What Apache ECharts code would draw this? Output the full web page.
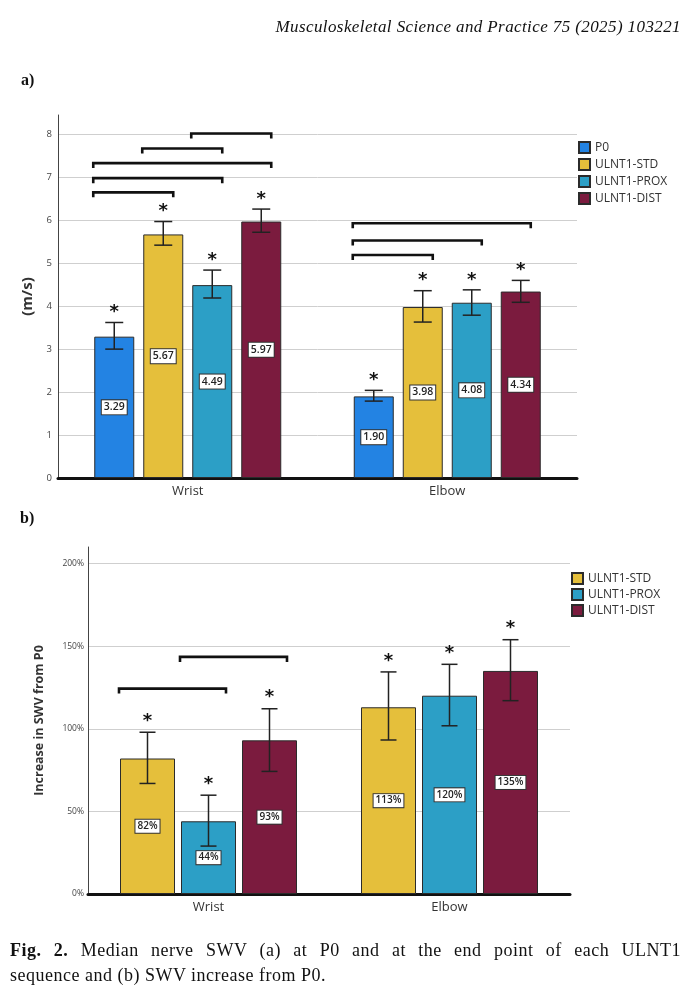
<!DOCTYPE html>
<html>
<head>
<meta charset="utf-8">
<script src="https://cdn.jsdelivr.net/npm/echarts@6/dist/echarts.min.js"></script>
<style>
  html, body { margin: 0; padding: 0; background: #fff; }
  #page { position: relative; width: 692px; height: 994px; overflow: hidden; }
  #chart { position: absolute; left: 0; top: 0; width: 692px; height: 994px; }
  .txt { position: absolute; font-family: "Liberation Serif", serif; color: #111; }
  #journal { right: 11px; top: 17px; font-size: 17px; font-style: italic; letter-spacing: 0.4px; }
  #la { left: 21px; top: 71px; font-size: 16px; font-weight: bold; }
  #lb { left: 20px; top: 509px; font-size: 16px; font-weight: bold; }
  #cap { left: 10px; top: 938px; width: 671px; font-size: 18px; line-height: 25px; letter-spacing: 0.5px; }
  #cap .l1 { text-align: justify; text-align-last: justify; }
</style>
</head>
<body>
<div id="page">
  <div id="chart"></div>
  <div class="txt" id="journal">Musculoskeletal Science and Practice 75 (2025) 103221</div>
  <div class="txt" id="la">a)</div>
  <div class="txt" id="lb">b)</div>
  <div class="txt" id="cap">
    <div class="l1"><b>Fig. 2.</b> Median nerve SWV (a) at P0 and at the end point of each ULNT1</div>
    <div>sequence and (b) SWV increase from P0.</div>
  </div>
</div>
<script>
// categories
const categories = ['Wrist', 'Elbow'];

// (a) SWV, m/s
const namesA = ['P0', 'ULNT1-STD', 'ULNT1-PROX', 'ULNT1-DIST'];
const swvP0 = [3.29, 1.90];
const swvStd = [5.67, 3.98];
const swvProx = [4.49, 4.08];
const swvDist = [5.97, 4.34];
const errLowA = [[3.00, 1.79], [5.42, 3.63], [4.19, 3.79], [5.72, 4.09]];
const errHighA = [[3.62, 2.04], [5.97, 4.36], [4.84, 4.38], [6.26, 4.60]];
// brackets: [category, from series, to series, height]
const bracketsA = [
  [0, 0, 1, 6.65], [0, 0, 2, 6.98], [0, 0, 3, 7.33], [0, 1, 2, 7.67], [0, 2, 3, 8.02],
  [1, 0, 1, 5.19], [1, 0, 2, 5.53], [1, 0, 3, 5.93]
];

// (b) increase from P0, %
const namesB = ['ULNT1-STD', 'ULNT1-PROX', 'ULNT1-DIST'];
const incStd = [82, 113];
const incProx = [44, 120];
const incDist = [93, 135];
const errLowB = [[66.9, 93.2], [29.0, 101.8], [74.2, 117.0]];
const errHighB = [[97.9, 134.4], [59.8, 139.0], [112.1, 153.9]];
const bracketsB = [[0, 0, 1, 124.3], [0, 1, 2, 143.5]];

const colors = {
  'P0': '#2383e3',
  'ULNT1-STD': '#e5bf3b',
  'ULNT1-PROX': '#2c9fc6',
  'ULNT1-DIST': '#7b1b3e'
};

const valuesA = [swvP0, swvStd, swvProx, swvDist];
const valuesB = [incStd, incProx, incDist];

const FONT = 'Open Sans';
const barWA = 40, gapA = 9;
const barWB = 55, gapB = 6;

function slotOffset(i, n, bw, gap) {
  return (i - (n - 1) / 2) * (bw + gap);
}

function barSeries(name, data, axis, bw, gap, fmt, fs) {
  return {
    type: 'bar',
    name: name,
    xAxisIndex: axis,
    yAxisIndex: axis,
    data: data,
    barWidth: bw,
    barGap: (gap / bw * 100) + '%',
    itemStyle: { color: colors[name], borderColor: '#2b2b2b', borderWidth: 1 },
    label: {
      show: true,
      position: 'inside',
      formatter: fmt,
      fontFamily: FONT,
      fontSize: fs,
      fontWeight: 600,
      color: '#222',
      backgroundColor: '#fff',
      borderColor: '#333',
      borderWidth: 1,
      padding: [2, 2, 1, 2]
    },
    z: 2
  };
}

function errorSeries(idx, n, lows, highs, axis, bw, gap, cap, starOff) {
  const data = lows.map((lo, c) => [c, lo, highs[c]]);
  return {
    type: 'custom',
    xAxisIndex: axis,
    yAxisIndex: axis,
    data: data,
    encode: { x: 0, y: [1, 2] },
    silent: true,
    z: 5,
    renderItem: function (params, api) {
      const hi = api.coord([api.value(0), api.value(2)]);
      const lo = api.coord([api.value(0), api.value(1)]);
      const x = hi[0] + slotOffset(idx, n, bw, gap);
      const st = { stroke: '#222', lineWidth: 1.5 };
      return {
        type: 'group',
        children: [
          { type: 'line', shape: { x1: x, y1: hi[1], x2: x, y2: lo[1] }, style: st },
          { type: 'line', shape: { x1: x - cap / 2, y1: hi[1], x2: x + cap / 2, y2: hi[1] }, style: st },
          { type: 'line', shape: { x1: x - cap / 2, y1: lo[1], x2: x + cap / 2, y2: lo[1] }, style: st },
          {
            type: 'text',
            style: {
              text: '*', x: x, y: hi[1] - starOff,
              align: 'center', verticalAlign: 'middle',
              font: 'bold 18px "DejaVu Sans"', fill: '#111'
            }
          }
        ]
      };
    }
  };
}

function bracketSeries(list, n, axis, bw, gap) {
  return {
    type: 'custom',
    xAxisIndex: axis,
    yAxisIndex: axis,
    data: list,
    encode: { x: 0, y: 3 },
    silent: true,
    z: 6,
    renderItem: function (params, api) {
      const p = api.coord([api.value(0), api.value(3)]);
      const x1 = p[0] + slotOffset(api.value(1), n, bw, gap) - bw / 2 - 1;
      const x2 = p[0] + slotOffset(api.value(2), n, bw, gap) + bw / 2 - 10;
      const y = p[1];
      return {
        type: 'polyline',
        shape: { points: [[x1, y + 5], [x1, y], [x2, y], [x2, y + 5]] },
        style: { stroke: '#111', lineWidth: 2.6, fill: null, lineJoin: 'miter' }
      };
    }
  };
}

const series = [];
namesA.forEach((nm, i) => {
  series.push(barSeries(nm, valuesA[i], 0, barWA, gapA, p => p.value.toFixed(2), 10.5));
});
namesA.forEach((nm, i) => {
  series.push(errorSeries(i, 4, errLowA[i], errHighA[i], 0, barWA, gapA, 18, 10));
});
series.push(bracketSeries(bracketsA, 4, 0, barWA, gapA));
namesB.forEach((nm, i) => {
  series.push(barSeries(nm, valuesB[i], 1, barWB, gapB, p => p.value + '%', 10));
});
namesB.forEach((nm, i) => {
  series.push(errorSeries(i, 3, errLowB[i], errHighB[i], 1, barWB, gapB, 16, 11));
});
series.push(bracketSeries(bracketsB, 3, 1, barWB, gapB));

const chart = echarts.init(document.getElementById('chart'));
chart.setOption({
  backgroundColor: '#fff',
  animation: false,
  grid: [
    { left: 58, top: 115, width: 519, height: 363 },
    { left: 88, top: 547, width: 482, height: 347 }
  ],
  legend: [
    {
      data: namesA, orient: 'vertical', left: 578, top: 141,
      itemWidth: 11, itemHeight: 11, itemGap: 4, padding: 0, icon: 'rect',
      textStyle: { fontFamily: FONT, fontSize: 12, color: '#333' }
    },
    {
      data: namesB, orient: 'vertical', left: 571, top: 572,
      itemWidth: 11, itemHeight: 11, itemGap: 3, padding: 0, icon: 'rect',
      textStyle: { fontFamily: FONT, fontSize: 12, color: '#333' }
    }
  ],
  xAxis: [0, 1].map(g => ({
    type: 'category',
    gridIndex: g,
    data: categories,
    axisTick: { show: false },
    axisLine: { lineStyle: { color: '#111', width: 3 } },
    axisLabel: { fontFamily: FONT, fontSize: 13, color: '#333', margin: 7 }
  })),
  yAxis: [
    {
      type: 'value', gridIndex: 0, min: 0, max: 8.45, interval: 1,
      name: '(m/s)', nameLocation: 'middle', nameGap: 21,
      nameTextStyle: { fontFamily: FONT, fontSize: 15, fontWeight: 'bold', color: '#333' },
      axisLine: { show: true, lineStyle: { color: '#444', width: 1 } },
      axisTick: { show: false },
      axisLabel: {
        fontFamily: FONT, fontSize: 9.5, color: '#444', margin: 6,
        formatter: v => (Math.abs(v - Math.round(v)) < 1e-6 ? String(v) : '')
      },
      splitLine: { show: true, showMaxLine: false, lineStyle: { color: '#cfcfcf', width: 1 } }
    },
    {
      type: 'value', gridIndex: 1, min: 0, max: 210, interval: 50,
      name: 'Increase in SWV from P0', nameLocation: 'middle', nameGap: 42,
      nameTextStyle: { fontFamily: FONT, fontSize: 12.5, fontWeight: 'bold', color: '#333' },
      axisLine: { show: true, lineStyle: { color: '#444', width: 1 } },
      axisTick: { show: false },
      axisLabel: {
        fontFamily: FONT, fontSize: 8.5, color: '#444', margin: 4,
        formatter: v => (v % 50 === 0 ? v + '%' : '')
      },
      splitLine: { show: true, showMaxLine: false, lineStyle: { color: '#cfcfcf', width: 1 } }
    }
  ],
  series: series
});

window.onresize = () => chart.resize();
</script>
</body>
</html>
